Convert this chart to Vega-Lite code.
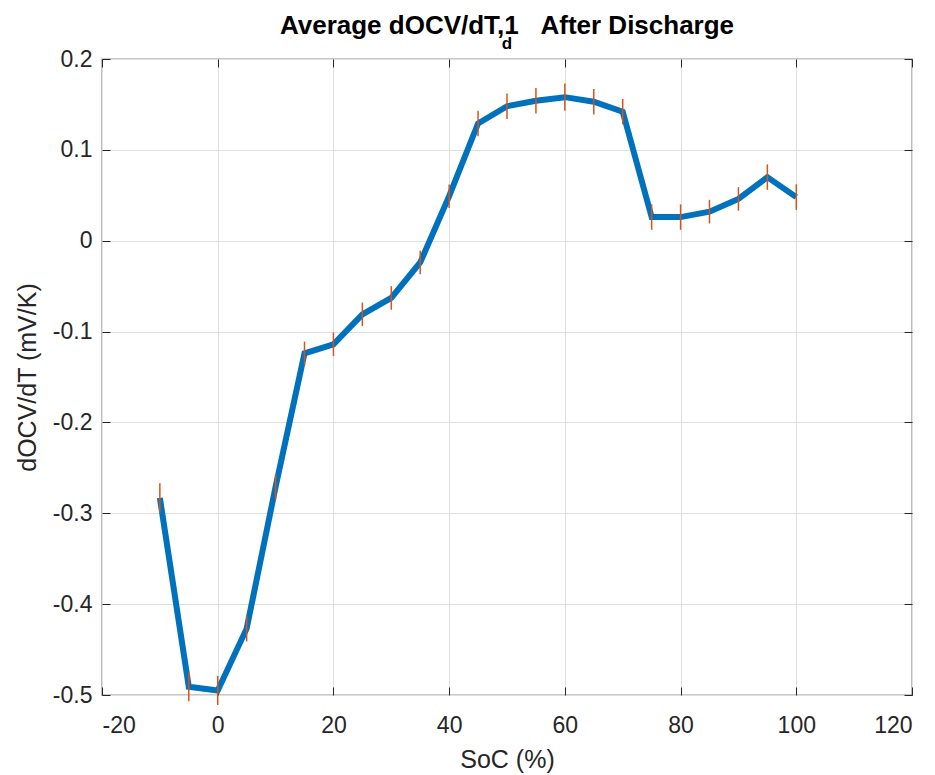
{
  "$schema": "https://vega.github.io/schema/vega-lite/v6.json",
  "width": 810,
  "height": 636,
  "autosize": "none",
  "padding": {"left": 102, "top": 59, "right": 23, "bottom": 80},
  "background": "white",
  "title": {
    "text": "Average dOCV/dT,1\u00a0\u00a0\u00a0After Discharge",
    "subtitle": "d",
    "anchor": "middle",
    "font": "Liberation Sans",
    "fontSize": 26,
    "fontWeight": "bold",
    "color": "#000000",
    "subtitleFont": "Liberation Sans",
    "subtitleFontSize": 17,
    "subtitleFontWeight": "bold",
    "subtitleColor": "#000000",
    "subtitlePadding": -3,
    "offset": 8,
    "dy": 12
  },
  "config": {
    "view": {"stroke": "#262626", "strokeWidth": 1.2},
    "axis": {
      "domain": false,
      "gridColor": "#dfdfdf",
      "gridWidth": 1,
      "tickColor": "#262626",
      "tickSize": -8,
      "tickWidth": 1,
      "labelFont": "Liberation Sans",
      "labelFontSize": 23,
      "labelColor": "#262626",
      "titleFont": "Liberation Sans",
      "titleFontSize": 25,
      "titleFontWeight": "normal",
      "titleColor": "#262626"
    }
  },
  "data": {
    "values": [
      {"soc": -10, "docv": -0.283, "err": 0.016},
      {"soc": -5, "docv": -0.491, "err": 0.016},
      {"soc": 0, "docv": -0.495, "err": 0.016},
      {"soc": 5, "docv": -0.427, "err": 0.014},
      {"soc": 10, "docv": -0.271, "err": 0.014},
      {"soc": 15, "docv": -0.124, "err": 0.013},
      {"soc": 20, "docv": -0.114, "err": 0.013},
      {"soc": 25, "docv": -0.081, "err": 0.013},
      {"soc": 30, "docv": -0.063, "err": 0.013},
      {"soc": 35, "docv": -0.024, "err": 0.013},
      {"soc": 40, "docv": 0.049, "err": 0.013},
      {"soc": 45, "docv": 0.129, "err": 0.014},
      {"soc": 50, "docv": 0.148, "err": 0.014},
      {"soc": 55, "docv": 0.154, "err": 0.014},
      {"soc": 60, "docv": 0.158, "err": 0.015},
      {"soc": 65, "docv": 0.153, "err": 0.014},
      {"soc": 70, "docv": 0.142, "err": 0.014},
      {"soc": 75, "docv": 0.026, "err": 0.014},
      {"soc": 80, "docv": 0.026, "err": 0.014},
      {"soc": 85, "docv": 0.032, "err": 0.013},
      {"soc": 90, "docv": 0.046, "err": 0.013},
      {"soc": 95, "docv": 0.070, "err": 0.014},
      {"soc": 100, "docv": 0.048, "err": 0.014}
    ]
  },
  "layer": [
    {
      "mark": {"type": "line", "color": "#0072BD", "strokeWidth": 6, "strokeJoin": "miter", "strokeCap": "butt"},
      "encoding": {
        "x": {
          "field": "soc",
          "type": "quantitative",
          "scale": {"domain": [-20, 120], "nice": false, "zero": false},
          "axis": {
            "orient": "bottom",
            "title": "SoC (%)",
            "values": [-20, 0, 20, 40, 60, 80, 100, 120],
            "labelExpr": "toString(datum.value)",
            "labelPadding": 27,
            "titlePadding": 10,
            "grid": true
          }
        },
        "y": {
          "field": "docv",
          "type": "quantitative",
          "scale": {"domain": [-0.5, 0.2], "nice": false, "zero": false},
          "axis": {
            "orient": "left",
            "title": "dOCV/dT (mV/K)",
            "values": [-0.5, -0.4, -0.3, -0.2, -0.1, 0, 0.1, 0.2],
            "labelExpr": "toString(datum.value)",
            "labelPadding": 18,
            "titlePadding": 12,
            "grid": true
          }
        }
      }
    },
    {
      "mark": {"type": "errorbar", "ticks": false, "color": "#D95319", "thickness": 1.5},
      "encoding": {
        "x": {
          "field": "soc",
          "type": "quantitative",
          "axis": {
            "orient": "top",
            "title": null,
            "labels": false,
            "grid": false,
            "values": [-20, 0, 20, 40, 60, 80, 100, 120]
          }
        },
        "y": {
          "field": "docv",
          "type": "quantitative",
          "axis": {
            "orient": "right",
            "title": null,
            "labels": false,
            "grid": false,
            "values": [-0.5, -0.4, -0.3, -0.2, -0.1, 0, 0.1, 0.2]
          }
        },
        "yError": {"field": "err"}
      }
    }
  ],
  "resolve": {"axis": {"x": "independent", "y": "independent"}}
}
